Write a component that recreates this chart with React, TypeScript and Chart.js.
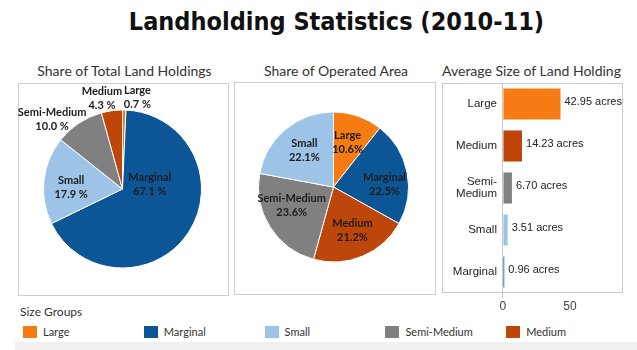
import React, { useEffect, useRef } from 'react';
import { Chart, registerables } from 'chart.js';
Chart.register(...registerables);

// ---- data ----
const groupNames = ['Large', 'Marginal', 'Small', 'Semi-Medium', 'Medium'];
const groupColors = ['#F67B12', '#0C5697', '#9DC3E6', '#808080', '#BF460B'];

const holdingsLabels = ['Large', 'Marginal', 'Small', 'Semi-Medium', 'Medium'];
const holdingsValues = [0.7, 67.1, 17.9, 10.0, 4.3];

const areaLabels = ['Large', 'Marginal', 'Medium', 'Semi-Medium', 'Small'];
const areaValues = [10.6, 22.5, 21.2, 23.6, 22.1];

const avgLabels = ['Large', 'Medium', 'Semi-Medium', 'Small', 'Marginal'];
const avgTickLabels = [['Large'], ['Medium'], ['Semi-', 'Medium'], ['Small'], ['Marginal']];
const avgValues = [42.95, 14.23, 6.7, 3.51, 0.96];
const avgAxisTicks = [0, 50];

// label placement: [radius factor, angle nudge in degrees]
const holdingsLabelPlace = [[1.17, 8], [0.35, -42], [0.65, -5], [1.25, -12], [1.18, -5]];
const areaLabelPlace = [[0.62, -1.5], [0.68, 9], [0.63, -1], [0.61, 8], [0.62, 1]];

const colorOf = (name: string) => groupColors[groupNames.indexOf(name)];

const CAL = 'Lato, "Noto Sans", sans-serif';
const ARIAL = '"Liberation Sans", Arial, sans-serif';

function PieChart(props: any) {
  const { labels, values, fmt, place, padding, w, h } = props;
  const ref = useRef<HTMLCanvasElement>(null);
  useEffect(() => {
    const chart = new Chart(ref.current as HTMLCanvasElement, {
      type: 'pie',
      data: {
        labels,
        datasets: [{
          data: values,
          backgroundColor: labels.map(colorOf),
          borderColor: '#ffffff',
          borderWidth: 1,
        }],
      },
      options: {
        animation: false,
        responsive: false,
        maintainAspectRatio: false,
        events: [],
        layout: { padding },
        plugins: { legend: { display: false }, tooltip: { enabled: false } },
      },
      plugins: [{
        id: 'pieLabels',
        afterDatasetsDraw(c: any) {
          const ctx = c.ctx;
          const meta = c.getDatasetMeta(0);
          ctx.save();
          ctx.font = 'bold 11px ' + CAL;
          ctx.fillStyle = '#1c1c1c';
          ctx.textAlign = 'center';
          ctx.textBaseline = 'middle';
          meta.data.forEach((arc: any, i: number) => {
            const p = arc.getProps(['x', 'y', 'startAngle', 'endAngle', 'outerRadius'], true);
            const [k, nudge] = place[i];
            const a = (p.startAngle + p.endAngle) / 2 + (nudge * Math.PI) / 180;
            const lx = p.x + Math.cos(a) * p.outerRadius * k;
            const ly = p.y + Math.sin(a) * p.outerRadius * k;
            ctx.fillText(labels[i], lx, ly - 7);
            ctx.fillText(fmt(values[i]), lx, ly + 7);
          });
          ctx.restore();
        },
      }],
    } as any);
    return () => chart.destroy();
  }, []);
  return <canvas ref={ref} width={w} height={h} style={{ width: w, height: h, display: 'block' }} />;
}

function BarChart() {
  const ref = useRef<HTMLCanvasElement>(null);
  useEffect(() => {
    const chart = new Chart(ref.current as HTMLCanvasElement, {
      type: 'bar',
      data: {
        labels: avgLabels,
        datasets: [{
          data: avgValues,
          backgroundColor: avgLabels.map(colorOf),
          categoryPercentage: 1,
          barPercentage: 0.74,
        }],
      },
      options: {
        indexAxis: 'y',
        animation: false,
        responsive: false,
        maintainAspectRatio: false,
        events: [],
        layout: { padding: 0 },
        plugins: { legend: { display: false }, tooltip: { enabled: false } },
        scales: {
          y: { display: false },
          x: {
            min: -45.5,
            max: 89.6,
            afterBuildTicks: (s: any) => { s.ticks = avgAxisTicks.map((v) => ({ value: v })); },
            afterFit: (s: any) => { s.height = 22; },
            border: { display: false },
            grid: {
              color: (c: any) => (c.tick && c.tick.value === 0 ? '#c8c8c8' : 'rgba(0,0,0,0)'),
              tickLength: 5,
            },
            ticks: {
              color: '#444',
              padding: 1,
              font: { family: ARIAL, size: 12 },
            },
          },
        },
      },
      plugins: [{
        id: 'barDeco',
        beforeDraw(c: any) {
          const { ctx, chartArea: a } = c;
          ctx.save();
          ctx.strokeStyle = '#cccccc';
          ctx.lineWidth = 1;
          ctx.strokeRect(a.left + 0.5, a.top + 0.5, a.width - 1, a.height - 1);
          ctx.restore();
        },
        afterDatasetsDraw(c: any) {
          const ctx = c.ctx;
          const xs = c.scales.x;
          const ys = c.scales.y;
          ctx.save();
          ctx.textBaseline = 'middle';
          ctx.fillStyle = '#222';
          const x0 = xs.getPixelForValue(0);
          ctx.font = '11.5px ' + ARIAL;
          avgTickLabels.forEach((lines, i) => {
            const y = ys.getPixelForValue(i);
            ctx.textAlign = 'right';
            const n = lines.length;
            lines.forEach((ln, j) => ctx.fillText(ln, x0 - 6, y + (j - (n - 1) / 2) * 12.5));
          });
          ctx.font = '11px ' + ARIAL;
          ctx.textAlign = 'left';
          avgValues.forEach((v, i) => {
            const y = ys.getPixelForValue(i) - 2;
            ctx.fillText(v.toFixed(2) + ' acres', xs.getPixelForValue(v) + 4, y);
          });
          ctx.restore();
        },
      }],
    } as any);
    return () => chart.destroy();
  }, []);
  return <canvas ref={ref} width={181} height={232} style={{ width: 181, height: 232, display: 'block' }} />;
}

const abs = (l: number, t: number, extra: any = {}) => ({ position: 'absolute', left: l, top: t, ...extra } as any);

export default function App() {
  const panelTitle = (text: string, cx: number, cy: number) => (
    <div style={abs(cx - 120, cy - 10, { width: 240, height: 20, lineHeight: '20px', textAlign: 'center', fontFamily: CAL, fontSize: 14, color: '#333' })}>{text}</div>
  );
  return (
    <div style={abs(0, 0, { width: 637, height: 350, background: '#fff', overflow: 'hidden' })}>
      <div style={abs(0, 6, { width: 673, height: 32, lineHeight: '32px', textAlign: 'center', fontFamily: '"DejaVu Sans Condensed", "DejaVu Sans", sans-serif', fontWeight: 'bold', fontSize: 25, color: '#111', whiteSpace: 'nowrap' })}>
        Landholding Statistics (2010-11)
      </div>

      {panelTitle('Share of Total Land Holdings', 124.5, 71)}
      {panelTitle('Share of Operated Area', 336, 71)}
      {panelTitle('Average Size of Land Holding', 531.5, 71)}

      <div style={abs(18, 83, { width: 211, height: 213, border: '1px solid #cfcfcf', boxSizing: 'border-box' })} />
      <div style={abs(18, 83)}>
        <PieChart labels={holdingsLabels} values={holdingsValues} fmt={(v: number) => v.toFixed(1) + ' %'}
          place={holdingsLabelPlace} padding={{ left: 25, right: 26, top: 26.5, bottom: 26.5 }} w={210} h={212} />
      </div>

      <div style={abs(234, 82, { width: 202, height: 213, border: '1px solid #cfcfcf', boxSizing: 'border-box' })} />
      <div style={abs(234, 82)}>
        <PieChart labels={areaLabels} values={areaValues} fmt={(v: number) => v.toFixed(1) + '%'}
          place={areaLabelPlace} padding={{ left: 24, right: 26, top: 29.5, bottom: 31.5 }} w={201} h={212} />
      </div>

      <div style={abs(442, 83)}>
        <BarChart />
      </div>

      <div style={abs(20, 303, { height: 18, lineHeight: '18px', fontFamily: CAL, fontSize: 12, color: '#333' })}>Size Groups</div>
      {groupNames.map((g, i) => (
        <div key={g} style={abs(23 + i * 120.8, 325, { height: 13, display: 'flex', alignItems: 'center' })}>
          <div style={{ width: 14, height: 12, background: groupColors[i] }} />
          <div style={{ marginLeft: 6, fontFamily: CAL, fontSize: 11, color: '#333', lineHeight: '13px', whiteSpace: 'nowrap' }}>{g}</div>
        </div>
      ))}
      <div style={abs(15, 342, { width: 622, height: 8, background: '#f0f0f0' })} />
    </div>
  );
}
